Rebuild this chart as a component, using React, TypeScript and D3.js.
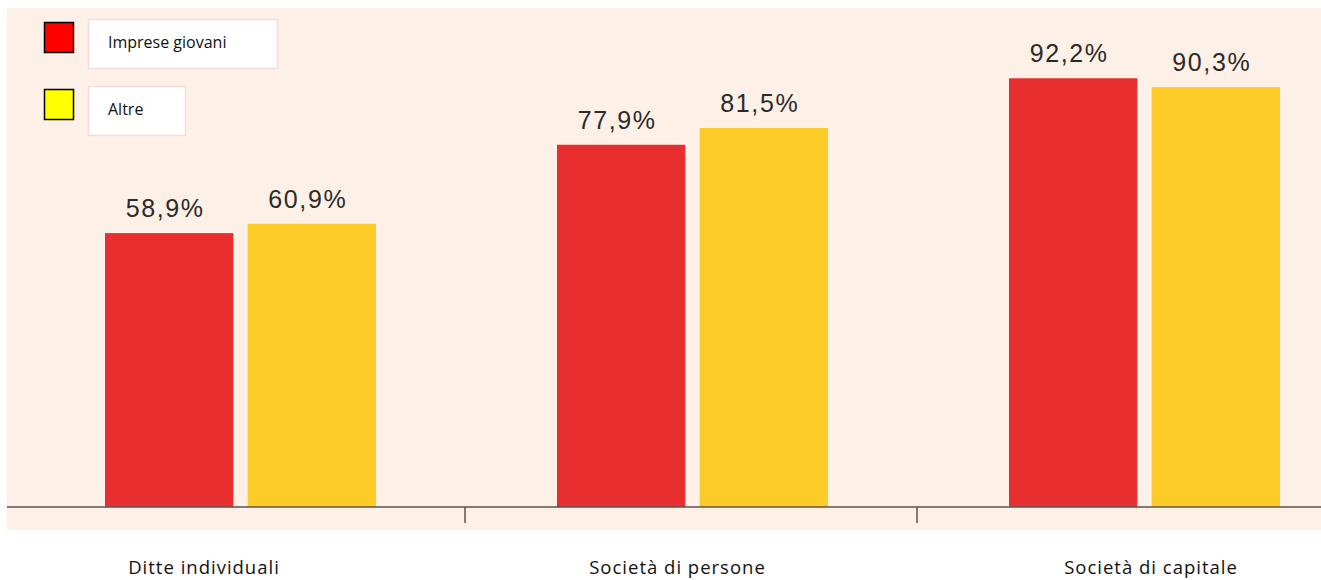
import React, { useEffect } from "react";
import * as d3 from "d3";

const categories = ["Ditte individuali", "Società di persone", "Società di capitale"];
const seriesNames = ["Imprese giovani", "Altre"];
const impreseGiovani = [58.9, 77.9, 92.2];
const altre = [60.9, 81.5, 90.3];
const barColors = ["#E92E30", "#FCCB27"];
const legendColors = ["#FF0000", "#FFFF00"];

const W = 1321;
const H = 580;

export default function App() {
  useEffect(() => {
    document.body.style.margin = "0";
  }, []);

  const y = d3.scaleLinear().domain([0, 100]).range([507, 42]);
  const x0 = d3.scaleBand<string>().domain(categories).range([13, 1369]).paddingInner(0).paddingOuter(0);
  const x1 = d3.scaleBand<string>().domain(seriesNames).range([92, 363]).paddingInner(0.1).paddingOuter(0);
  const labelX = d3.scalePoint<string>().domain(categories).range([204, 1151]);
  const values = [impreseGiovani, altre];
  const fmt = (v: number) => v.toFixed(1).replace(".", ",") + "%";

  const ticks = categories.slice(1).map((c) => x0(c) as number);

  return (
    <svg width={W} height={H} style={{ display: "block" }}>
      <rect x={0} y={0} width={W} height={H} fill="#ffffff" />
      <rect x={7} y={8} width={W - 7} height={522} fill="#FDF0E6" />
      {categories.map((c, ci) => (
        <g key={c} transform={`translate(${x0(c)},0)`}>
          {seriesNames.map((s, si) => {
            const v = values[si][ci];
            const bx = x1(s) as number;
            const bw = x1.bandwidth();
            return (
              <g key={s}>
                <rect x={bx} y={y(v)} width={bw} height={y(0) - y(v)} fill={barColors[si]} />
                <text
                  x={bx + bw / 2 - 4}
                  y={y(v) - 16}
                  textAnchor="middle"
                  fontFamily="'Liberation Sans', Arial, sans-serif"
                  fontSize={25}
                  letterSpacing={1.6}
                  fill="#2b2b2b"
                >
                  {fmt(v)}
                </text>
              </g>
            );
          })}
        </g>
      ))}
      <line x1={7} x2={W} y1={y(0)} y2={y(0)} stroke="#5a5350" strokeWidth={1.5} />
      {ticks.map((t, i) => (
        <line key={i} x1={t} x2={t} y1={y(0)} y2={y(0) + 16} stroke="#5a5350" strokeWidth={1.5} />
      ))}
      {categories.map((c) => (
        <text
          key={c}
          x={labelX(c)}
          y={574}
          textAnchor="middle"
          fontFamily="'Open Sans', 'Noto Sans', sans-serif"
          fontSize={18.5}
          letterSpacing={1}
          fill="#111"
        >
          {c}
        </text>
      ))}
      {seriesNames.map((s, i) => {
        const top = i === 0 ? 19 : 86;
        const bw = i === 0 ? 189 : 97;
        return (
          <g key={s}>
            <rect x={44.5} y={top + 3.5} width={29} height={30} fill={legendColors[i]} stroke="#000" strokeWidth={1.5} />
            <rect x={88.5} y={top + 0.5} width={bw} height={49} fill="#ffffff" stroke="#F3DCDA" strokeWidth={1.5} />
            <text
              x={108}
              y={top + 29}
              fontFamily="'Open Sans', 'Noto Sans', sans-serif"
              fontSize={16}
              fill="#111"
            >
              {s}
            </text>
          </g>
        );
      })}
    </svg>
  );
}
